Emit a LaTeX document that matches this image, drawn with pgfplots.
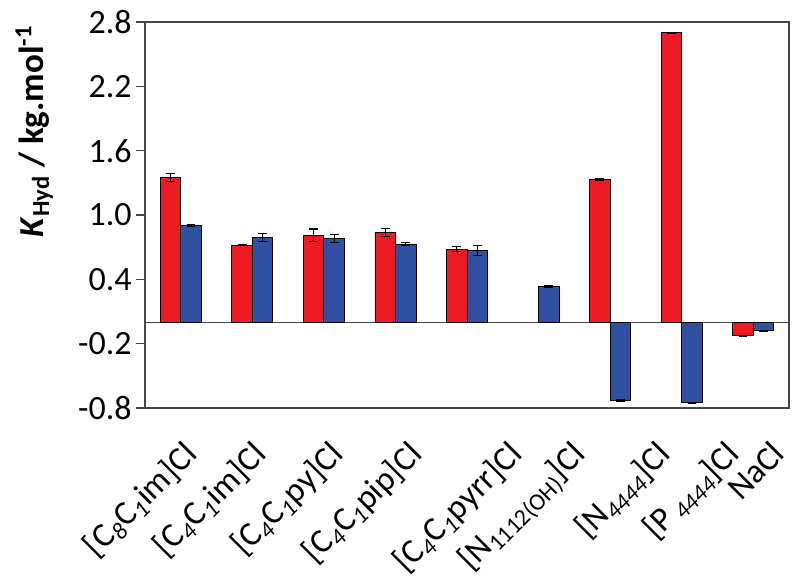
\documentclass[border=0pt]{standalone}
\usepackage{fontspec}
\setmainfont{Carlito}
\usepackage{pgfplots}
\pgfplotsset{compat=1.18}
\definecolor{myred}{RGB}{237,28,36}
\definecolor{myblue}{RGB}{48,80,162}
\definecolor{axgray}{RGB}{70,70,70}
\begin{document}
\begin{tikzpicture}
\begin{axis}[
  scale only axis, width=322pt, height=193pt,
  xmin=-0.5, xmax=8.5, ymin=-0.8, ymax=2.8,
  ybar=0pt, bar width=0.286,
  xtick={0.01,0.98,2.05,3.15,4.55,5.43,6.62,7.58,8.23},
  xticklabels={
    {[C\textsubscript{\textit{8}}C\textsubscript{\textit{1}}im]Cl},
    {[C\textsubscript{\textit{4}}C\textsubscript{\textit{1}}im]Cl},
    {[C\textsubscript{\textit{4}}C\textsubscript{\textit{1}}py]Cl},
    {[C\textsubscript{\textit{4}}C\textsubscript{\textit{1}}pip]Cl},
    {[C\textsubscript{\textit{4}}C\textsubscript{\textit{1}}pyrr]Cl},
    {[N\textsubscript{1112(OH)}]Cl},
    {[N\textsubscript{\textit{4444}}]Cl},
    {[P\,\textsubscript{\textit{4444}}]Cl},
    {NaCl}},
  x tick label style={yshift=-10pt, rotate=45, anchor=north east, inner sep=0.5pt, font=\fontsize{17}{19}\selectfont},
  major x tick style={draw=none},
  ytick={-0.8,-0.2,0.4,1.0,1.6,2.2,2.8},
  yticklabels={-0.8,-0.2,0.4,1.0,1.6,2.2,2.8},
  ytick pos=left, tick align=outside, major tick length=4.5pt,
  major y tick style={axgray, line width=0.6pt},
  yticklabel style={font=\fontsize{17}{19}\selectfont, inner sep=2pt},
  axis line style={axgray, line width=0.7pt},
  extra y ticks={0}, extra y tick labels={},
  extra y tick style={grid=major, major grid style={axgray, line width=0.7pt}, major tick length=0pt},
  ylabel={\textbf{\textit{K}\textsubscript{Hyd} / kg.mol\textsuperscript{-1}}},
  ylabel style={at={(axis description cs:-0.172,0.717)}, anchor=center, font=\fontsize{17.5}{19}\selectfont},
  error bars/y dir=both, error bars/y explicit,
  error bars/error bar style={black, line width=0.6pt},
  error bars/error mark options={rotate=90, mark size=2.2pt, black, line width=0.6pt},
]
\addplot[fill=myred, draw=black, line width=0.4pt] coordinates {
  (0,1.35) +- (0,0.04)
  (1,0.72) +- (0,0.008)
  (2,0.81) +- (0,0.059)
  (3,0.835) +- (0,0.039)
  (4,0.68) +- (0,0.023)
  (6,1.33) +- (0,0.005)
  (7,2.70) +- (0,0.005)
  (8,-0.125) +- (0,0.003)
};
\addplot[fill=myblue, draw=black, line width=0.4pt] coordinates {
  (0,0.90) +- (0,0.008)
  (1,0.79) +- (0,0.04)
  (2,0.78) +- (0,0.037)
  (3,0.73) +- (0,0.01)
  (4,0.67) +- (0,0.044)
  (5,0.33) +- (0,0.007)
  (6,-0.73) +- (0,0.005)
  (7,-0.75) +- (0,0.005)
  (8,-0.08) +- (0,0.003)
};
\coordinate (sw) at (rel axis cs:0,0);
\coordinate (ne) at (rel axis cs:1,1);
\end{axis}
\pgfresetboundingbox
\path ([xshift=-72.5pt,yshift=-89.5pt]sw) rectangle ([xshift=5.5pt,yshift=11pt]ne);
\end{tikzpicture}
\end{document}
